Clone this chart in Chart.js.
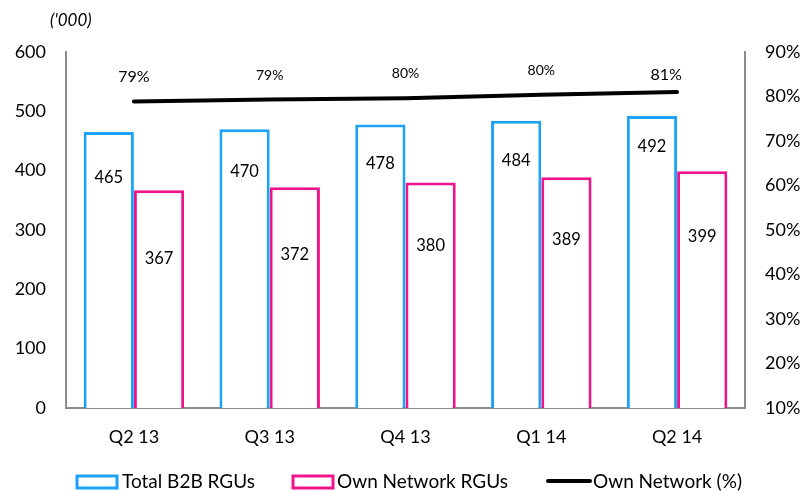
<!DOCTYPE html>
<html>
  <head>
    <title>B2B RGUs</title>
    <meta charset="UTF-8">
    <script src="https://cdn.jsdelivr.net/npm/chart.js@4/dist/chart.umd.min.js"></script>
    <style>
      body { margin: 0; background: #fff; }
    </style>
  </head>
  <body>
    <canvas id="chart" width="805" height="491"></canvas>
    <script>
      const quarters = ['Q2 13', 'Q3 13', 'Q4 13', 'Q1 14', 'Q2 14']
      const totalB2B = [465, 470, 478, 484, 492]
      const ownNetwork = [367, 372, 380, 389, 399]
      const ownNetworkPct = [78.9, 79.3, 79.6, 80.4, 81.0]
      const pctLabels = ['79%', '79%', '80%', '80%', '81%']

      // where each value label sits, as placed in the original
      const blueOffset = [46, 43, 39, 40, 31]
      const pinkOffset = [68, 67, 63, 62, 65]
      const pctLabelY = [77, 75, 73, 70, 75]
      const pctLabelSize = [16, 14, 14, 14, 16]

      const font = 'Lato, "Open Sans", sans-serif'
      const blue = '#1CA3F5'
      const pink = '#F0148C'

      const labelPlugin = {
        id: 'labels',
        afterDatasetsDraw(c) {
          const ctx = c.ctx
          ctx.save()
          ctx.fillStyle = '#000'
          ctx.textAlign = 'center'
          ctx.textBaseline = 'middle'
          ctx.font = '16.5px ' + font
          c.getDatasetMeta(0).data.forEach((b, i) => {
            ctx.fillText(totalB2B[i], b.x, b.y + blueOffset[i])
          })
          c.getDatasetMeta(1).data.forEach((b, i) => {
            ctx.fillText(ownNetwork[i], b.x, b.y + pinkOffset[i])
          })
          c.getDatasetMeta(2).data.forEach((p, i) => {
            ctx.font = pctLabelSize[i] + 'px ' + font
            ctx.fillText(pctLabels[i], p.x - (i == 4 ? 11 : 0), pctLabelY[i])
          })
          ctx.font = 'italic 17px ' + font
          ctx.textAlign = 'left'
          ctx.fillText("('000)", 50, 21)

          // legend
          ctx.font = '19px ' + font
          const ly = 482
          ctx.lineWidth = 3
          ctx.strokeStyle = blue
          ctx.strokeRect(77, ly - 6, 40, 12)
          ctx.fillText('Total B2B RGUs', 122, ly)
          ctx.strokeStyle = pink
          ctx.strokeRect(293, ly - 6, 40, 12)
          ctx.fillText('Own Network RGUs', 337, ly)
          ctx.strokeStyle = '#000'
          ctx.lineWidth = 4
          ctx.lineCap = 'round'
          ctx.beginPath()
          ctx.moveTo(548, ly - 1)
          ctx.lineTo(590, ly - 1)
          ctx.stroke()
          ctx.fillText('Own Network (%)', 593, ly)
          ctx.restore()
        }
      }

      new Chart(document.getElementById('chart'), {
        type: 'bar',
        data: {
          labels: quarters,
          datasets: [{
            label: 'Total B2B RGUs',
            data: totalB2B,
            backgroundColor: '#fff',
            borderColor: blue,
            borderWidth: 3,
            borderSkipped: 'bottom',
            yAxisID: 'y',
            order: 2
          }, {
            label: 'Own Network RGUs',
            data: ownNetwork,
            backgroundColor: '#fff',
            borderColor: pink,
            borderWidth: 3,
            borderSkipped: 'bottom',
            yAxisID: 'y',
            order: 2
          }, {
            type: 'line',
            label: 'Own Network (%)',
            data: ownNetworkPct,
            borderColor: '#000',
            backgroundColor: '#000',
            borderWidth: 4,
            borderCapStyle: 'round',
            pointRadius: 0,
            tension: 0,
            yAxisID: 'y1',
            order: 1
          }]
        },
        options: {
          responsive: false,
          animation: false,
          layout: { padding: { top: 52, left: 0, right: 0, bottom: 0 } },
          datasets: { bar: { categoryPercentage: 0.74, barPercentage: 1 } },
          scales: {
            x: {
              grid: { display: false, drawTicks: false },
              border: { color: '#8c8c8c', width: 2 },
              ticks: { color: '#000', font: { family: font, size: 18 }, padding: 18 },
              afterFit: s => { s.height = 83 }
            },
            y: {
              position: 'left',
              min: 0, max: 600,
              grid: { display: false, drawTicks: false },
              border: { color: '#8c8c8c', width: 2 },
              ticks: { stepSize: 100, color: '#000', font: { family: font, size: 18 }, padding: 20 },
              afterFit: s => { s.width = 66 }
            },
            y1: {
              position: 'right',
              min: 10, max: 90,
              grid: { display: false, drawTicks: false },
              border: { color: '#8c8c8c', width: 2 },
              ticks: { stepSize: 10, color: '#000', font: { family: font, size: 18 }, padding: 20,
                callback: v => v + '%' },
              afterFit: s => { s.width = 60 }
            }
          },
          plugins: {
            tooltip: { enabled: false },
            legend: { display: false }
          }
        },
        plugins: [labelPlugin]
      })
    </script>
  </body>
</html>
